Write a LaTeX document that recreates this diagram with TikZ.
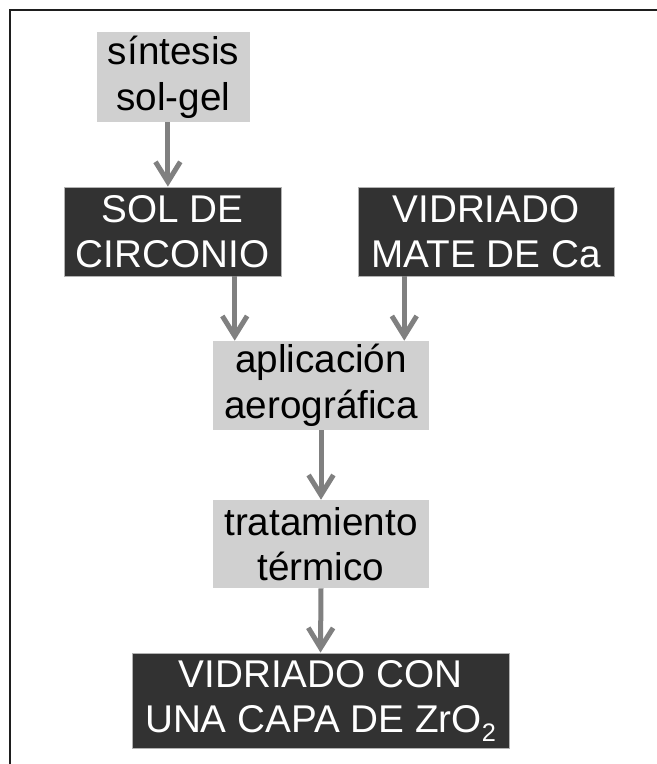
\documentclass[tikz,border=0pt]{standalone}
\usepackage{fontspec}
\setmainfont{Liberation Sans}
\usepackage{tikz}
\usetikzlibrary{positioning,arrows.meta,calc}
\usepackage{xcolor}
\definecolor{DarkBox}{RGB}{50,50,50}
\definecolor{LightBox}{RGB}{208,208,208}
\definecolor{ArrowGray}{RGB}{128,128,128}
\definecolor{FrameLine}{RGB}{30,30,30}
\newcommand{\lowsub}[1]{\raisebox{-6pt}{\fontsize{18}{18}\selectfont #1}}

\begin{document}
\begin{tikzpicture}[
    x=0.025cm, y=-0.025cm,
    lightbox/.style={rectangle, fill=LightBox, draw=none, inner sep=0pt, align=center,
        font=\fontsize{27.5}{32.4}\selectfont, text=black},
    darkbox/.style={rectangle, fill=DarkBox, draw=gray!60, line width=0.6pt, inner sep=0pt, align=center,
        font=\fontsize{27.5}{32.4}\selectfont, text=white},
    flow/.style={-{Straight Barb[length=0.5cm, width=0.62cm]}, line width=0.125cm, ArrowGray},
]
\useasboundingbox (0,0) rectangle (657,764);
\draw[FrameLine, line width=1.2pt] (10,764) -- (10,10) -- (657,10);

\node[lightbox, minimum width=153*0.025cm, minimum height=90*0.025cm] (sint) at (173.5,77) {síntesis\\sol-gel};
\node[darkbox, minimum width=217*0.025cm, minimum height=89*0.025cm] (sol) at (172.5,231.5) {SOL DE\\CIRCONIO};
\node[darkbox, minimum width=256*0.025cm, minimum height=89*0.025cm] (vid) at (486,231.5) {VIDRIADO\\MATE DE Ca};
\node[lightbox, minimum width=216*0.025cm, minimum height=89*0.025cm] (apl) at (321,385.5) {aplicación\\aerográfica};
\node[lightbox, minimum width=216*0.025cm, minimum height=88*0.025cm] (trat) at (321,544) {tratamiento\\térmico};
\node[darkbox, minimum width=377*0.025cm, minimum height=95*0.025cm] (final) at (320.5,700.5) {VIDRIADO CON\\UNA CAPA DE ZrO\lowsub{2}};

\draw[flow] ([xshift=-0.14cm]sint.south) -- ([xshift=-0.14cm]sint.south |- sol.north);
\draw[flow] ([xshift=0.55cm]apl.north west |- sol.south) -- ([xshift=0.55cm]apl.north west);
\draw[flow] ([xshift=-0.625cm]apl.north east |- vid.south) -- ([xshift=-0.625cm]apl.north east);
\draw[flow] (apl.south) -- (trat.north);
\draw[flow] (trat.south) -- (final.north);
\end{tikzpicture}
\end{document}
